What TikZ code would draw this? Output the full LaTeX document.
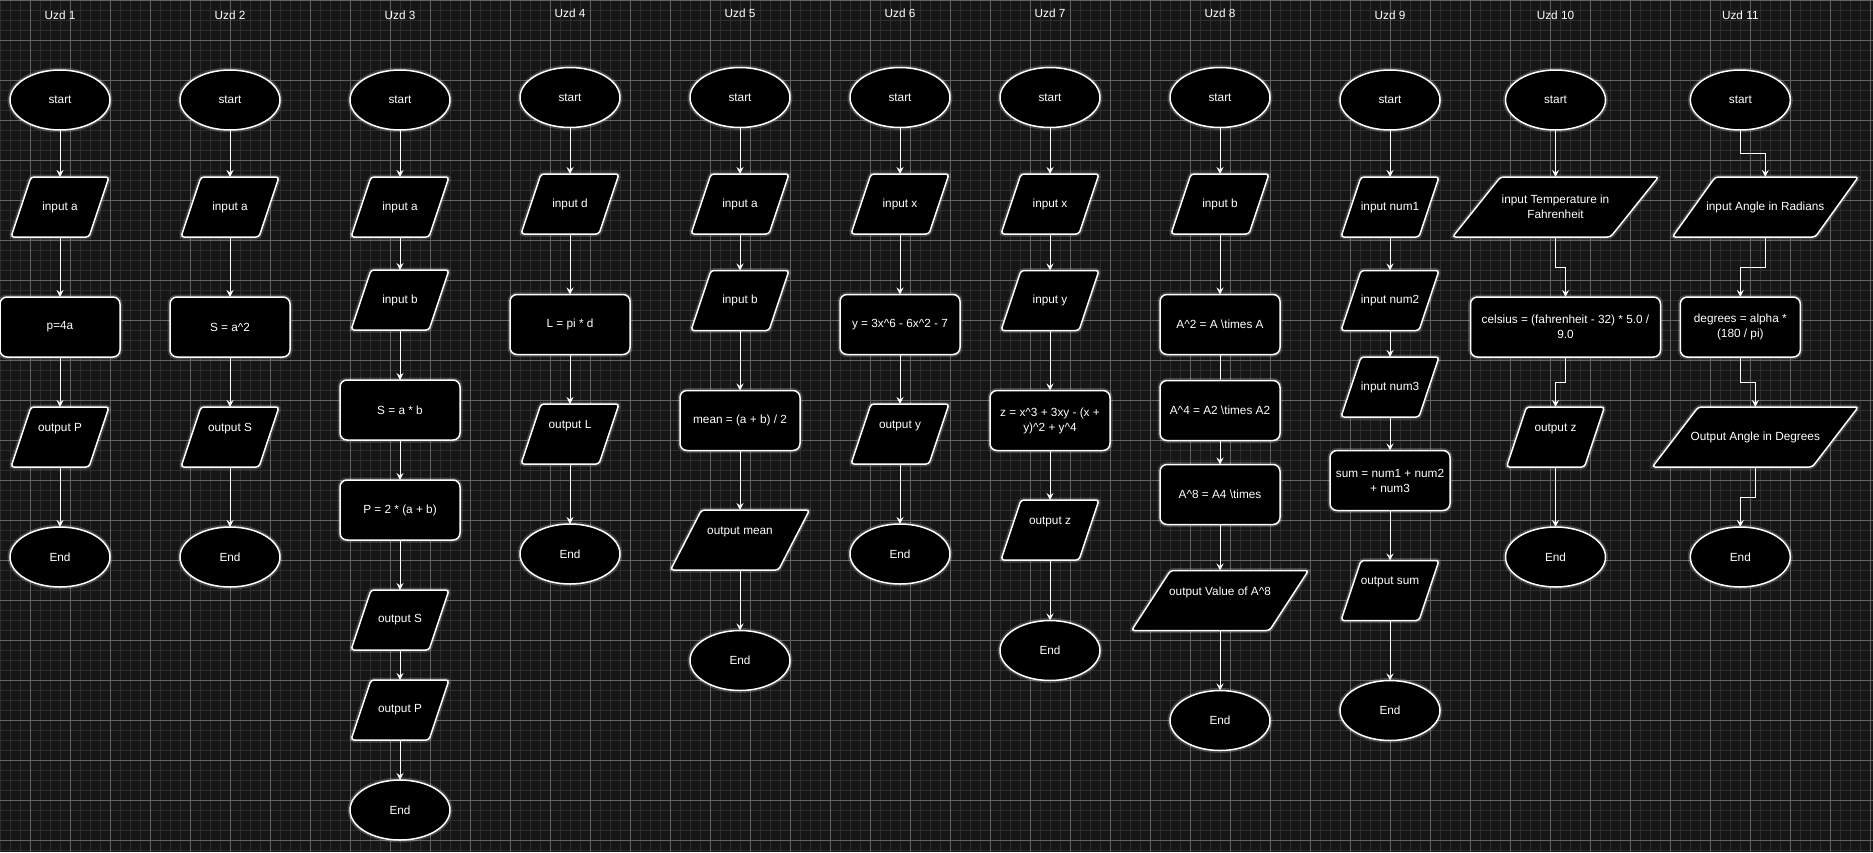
\documentclass[tikz,border=0pt]{standalone}
\usepackage{fontspec}
\setmainfont{Liberation Sans}
\usepackage{tikz}
\usetikzlibrary{arrows.meta,positioning,shapes.geometric,backgrounds}
\definecolor{canvas}{HTML}{161616}
\definecolor{gridmin}{HTML}{2E2E2E}
\definecolor{gridmaj}{HTML}{626262}
\newcommand{\caret}{\textasciicircum}
\tikzset{
  glow/.style={preaction={draw=white, opacity=0.18, line width=5pt}},
  term/.style={
    ellipse, draw=white, line width=1.5pt, fill=black, glow, text=white,
    minimum width=100pt, minimum height=60pt, inner sep=0pt, outer sep=0pt,
    font=\fontsize{11.8}{15}\selectfont
  },
  proc/.style={
    rectangle, rounded corners=7pt, draw=white, line width=1.5pt, fill=black,
    glow, text=white, minimum width=120pt, minimum height=60pt, inner sep=2pt,
    outer sep=0pt, align=center, font=\fontsize{11.8}{15}\selectfont
  },
  io/.style={
    rectangle, text=white, minimum width=98pt, minimum height=60pt,
    inner sep=2pt, outer sep=0pt, align=center, font=\fontsize{11.8}{15}\selectfont
  },
  para/.style={draw=white, line width=1.5pt, fill=black, glow, rounded corners=3pt},
  title/.style={text=white, font=\fontsize{11.8}{15}\selectfont},
  link/.style={white, line width=1pt},
  arrow/.style={link, -{Stealth[length=7pt,width=7pt,inset=2.5pt]}},
}
\begin{document}
\begin{tikzpicture}[x=1pt, y=-1pt]
  \useasboundingbox (0,0) rectangle (1873,852);
  \begin{scope}[on background layer]
    \fill[canvas] (0,0) rectangle (1873,852);
    \foreach \gx in {0.7,10.7,...,1873} \draw[gridmin, line width=0.8pt] (\gx,0) -- (\gx,852);
    \foreach \gy in {0,10,...,852} \draw[gridmin, line width=0.8pt] (0,\gy) -- (1873,\gy);
    \foreach \gx in {30.7,70.7,...,1873} \draw[gridmaj, line width=1pt] (\gx,0) -- (\gx,852);
    \foreach \gy in {0,40,...,852} \draw[gridmaj, line width=1pt] (0,\gy) -- (1873,\gy);
  \end{scope}

  \foreach \n/\tx/\ty in {1/60/15,2/230/15,3/400/15,4/570/13,5/740/13,6/900/13,
                          7/1050/13,8/1220/13,9/1390/15,10/1555.5/15,11/1740.3/15}
    \node[title] (t\n) at (\tx,\ty) {Uzd \n};

  % Uzd 1
  \node[term] (st1) at (60,100) {start};
  \node[io, below=47pt of st1] (in1) {input a};
  \node[proc, below=60pt of in1] (pr1) {p=4a};
  \node[io, below=50pt of pr1] (out1) {output P\\\strut};
  \node[term, below=60pt of out1] (en1) {End};

  % Uzd 2
  \node[term] (st2) at (230,100) {start};
  \node[io, below=47pt of st2] (in2) {input a};
  \node[proc, below=60pt of in2] (pr2) {S = a\caret2};
  \node[io, below=50pt of pr2] (out2) {output S\\\strut};
  \node[term, below=60pt of out2] (en2) {End};

  % Uzd 3
  \node[term] (st3) at (400,100) {start};
  \node[io, below=47pt of st3] (in3a) {input a};
  \node[io, below=33pt of in3a] (in3b) {input b};
  \node[proc, below=50pt of in3b] (pr3a) {S = a * b};
  \node[proc, below=40pt of pr3a] (pr3b) {P = 2 * (a + b)};
  \node[io, below=50pt of pr3b] (out3a) {output S};
  \node[io, below=30pt of out3a] (out3b) {output P};
  \node[term, below=40pt of out3b] (en3) {End};

  % Uzd 4
  \node[term] (st4) at (570,97.5) {start};
  \node[io, below=46.5pt of st4] (in4) {input d};
  \node[proc, below=60.5pt of in4] (pr4) {L = pi * d};
  \node[io, below=49.5pt of pr4] (out4) {output L\\\strut};
  \node[term, below=60pt of out4] (en4) {End};

  % Uzd 5
  \node[term] (st5) at (740,97.5) {start};
  \node[io, below=46.5pt of st5] (in5a) {input a};
  \node[io, below=36.5pt of in5a] (in5b) {input b};
  \node[proc, below=60pt of in5b] (pr5) {mean = (a + b) / 2};
  \node[io, below=59.5pt of pr5, minimum width=139pt] (out5) {output mean\\\strut};
  \node[term, below=60.5pt of out5] (en5) {End};

  % Uzd 6
  \node[term] (st6) at (900,97.5) {start};
  \node[io, below=46.5pt of st6] (in6) {input x};
  \node[proc, below=60.5pt of in6] (pr6) {y = 3x\caret6 - 6x\caret2 - 7};
  \node[io, below=49.5pt of pr6] (out6) {output y\\\strut};
  \node[term, below=60pt of out6] (en6) {End};

  % Uzd 7
  \node[term] (st7) at (1050,97.5) {start};
  \node[io, below=46.5pt of st7] (in7a) {input x};
  \node[io, below=36.5pt of in7a] (in7b) {input y};
  \node[proc, below=60pt of in7b] (pr7) {z = x\caret3 + 3xy - (x +\\y)\caret2 + y\caret4};
  \node[io, below=49.5pt of pr7] (out7) {output z\\\strut};
  \node[term, below=60.5pt of out7] (en7) {End};

  % Uzd 8
  \node[term] (st8) at (1220,97.5) {start};
  \node[io, below=46.5pt of st8] (in8) {input b};
  \node[proc, below=60.5pt of in8] (pr8a) {A\caret2 = A \textbackslash times A};
  \node[proc, below=26pt of pr8a] (pr8b) {A\caret4 = A2 \textbackslash times A2};
  \node[proc, below=24pt of pr8b] (pr8c) {A\caret8 = A4 \textbackslash times};
  \node[io, below=46pt of pr8c, minimum width=177pt] (out8) {output Value of A\caret8\\\strut};
  \node[term, below=60pt of out8] (en8) {End};

  % Uzd 9
  \node[term] (st9) at (1390,100) {start};
  \node[io, below=47pt of st9] (in9a) {input num1};
  \node[io, below=33.5pt of in9a] (in9b) {input num2};
  \node[io, below=26.5pt of in9b] (in9c) {input num3};
  \node[proc, below=33.5pt of in9c] (pr9) {sum = num1 + num2\\+ num3};
  \node[io, below=50pt of pr9] (out9) {output sum\\\strut};
  \node[term, below=60pt of out9] (en9) {End};

  % Uzd 10
  \node[term] (st10) at (1555.5,100) {start};
  \node[io, below=47pt of st10, minimum width=206pt] (in10) {input Temperature in\\Fahrenheit};
  \node[proc, below=60pt of in10, xshift=10pt, minimum width=190pt] (pr10)
       {celsius = (fahrenheit - 32) * 5.0 /\\9.0};
  \node[io, below=50pt of pr10, xshift=-10pt] (out10) {output z\\\strut};
  \node[term, below=60pt of out10] (en10) {End};

  % Uzd 11
  \node[term] (st11) at (1740.3,100) {start};
  \node[io, below=47pt of st11, xshift=25pt, minimum width=186pt] (in11) {input Angle in Radians};
  \node[proc, below=60pt of in11, xshift=-25pt] (pr11) {degrees = alpha *\\(180 / pi)};
  \node[io, below=50pt of pr11, xshift=15pt, minimum width=206pt] (out11) {Output Angle in Degrees};
  \node[term, below=60pt of out11, xshift=-15pt] (en11) {End};

  % parallelograms behind the io nodes
  \begin{scope}[on background layer]
    \foreach \n/\s in {in1/20, out1/20, in2/20, out2/20, in3a/20, in3b/20, out3a/20, out3b/20,
                       in4/20, out4/20, in5a/20, in5b/20, out5/31, in6/20, out6/20,
                       in7a/20, in7b/20, out7/20, in8/20, out8/39, in9a/20, in9b/20, in9c/20,
                       out9/20, in10/48, out10/20, in11/43, out11/46}
      \draw[para] (\n.south west) -- ([xshift=\s pt]\n.north west) -- (\n.north east)
                  -- ([xshift=-\s pt]\n.south east) -- cycle;
  \end{scope}

  \foreach \a/\b in {st1/in1, in1/pr1, pr1/out1, out1/en1,
                     st2/in2, in2/pr2, pr2/out2, out2/en2,
                     st3/in3a, in3a/in3b, in3b/pr3a, pr3a/pr3b, pr3b/out3a, out3a/out3b, out3b/en3,
                     st4/in4, in4/pr4, pr4/out4, out4/en4,
                     st5/in5a, in5a/in5b, in5b/pr5, pr5/out5, out5/en5,
                     st6/in6, in6/pr6, pr6/out6, out6/en6,
                     st7/in7a, in7a/in7b, in7b/pr7, pr7/out7, out7/en7,
                     st8/in8, in8/pr8a, pr8b/pr8c, pr8c/out8, out8/en8,
                     st9/in9a, in9a/in9b, in9b/in9c, in9c/pr9, pr9/out9, out9/en9,
                     st10/in10, out10/en10}
    \draw[arrow] (\a) -- (\b);
  \draw[link] (pr8a) -- (pr8b);

  \draw[arrow] (in10.south) -- ++(0,30) -| (pr10.north);
  \draw[arrow] (pr10.south) -- ++(0,25) -| (out10.north);
  \draw[arrow] (st11.south) -- ++(0,23.5) -| (in11.north);
  \draw[arrow] (in11.south) -- ++(0,30) -| (pr11.north);
  \draw[arrow] (pr11.south) -- ++(0,25) -| (out11.north);
  \draw[arrow] (out11.south) -- ++(0,30) -| (en11.north);
\end{tikzpicture}
\end{document}
